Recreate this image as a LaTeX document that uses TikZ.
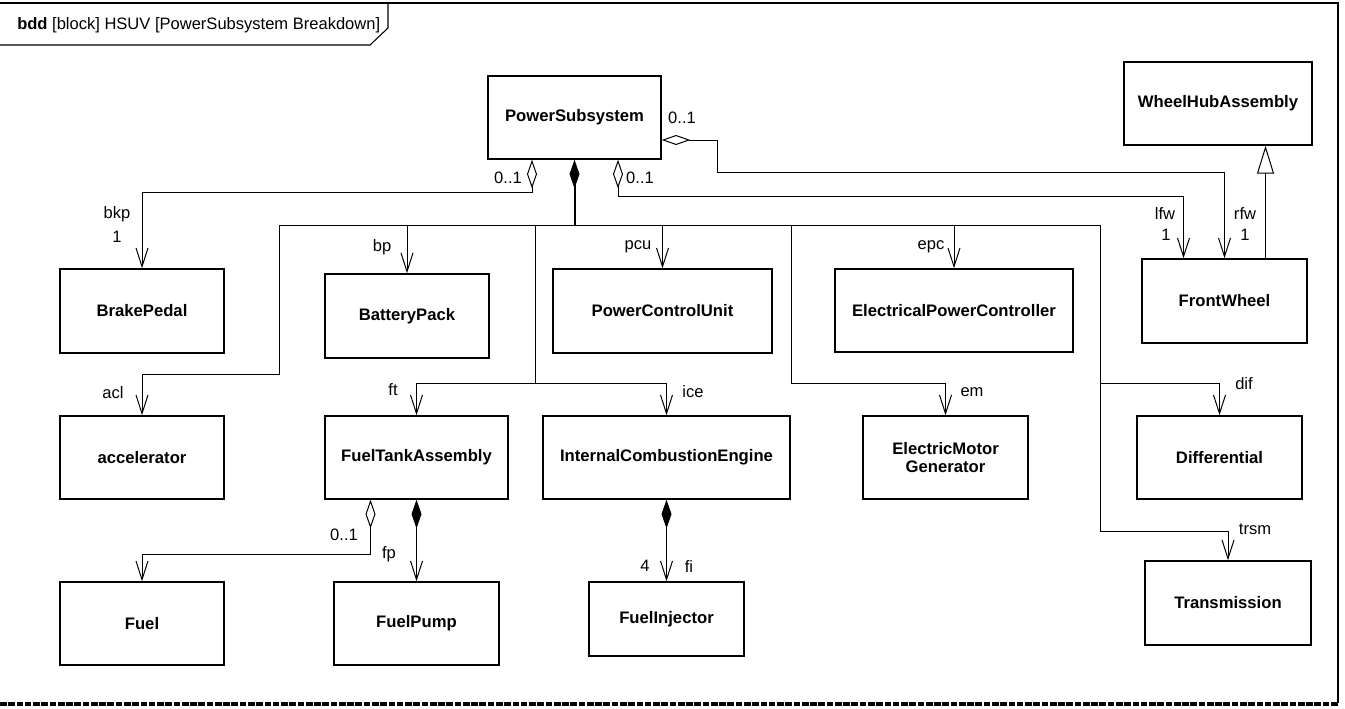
\documentclass[tikz,border=0pt]{standalone}
\usepackage{fontspec}
\setmainfont{Liberation Sans}
\usetikzlibrary{arrows.meta,calc}

\tikzset{
  block/.style 2 args={draw, line width=1.1pt, inner sep=0pt, align=center,
    minimum width=#1*0.75pt, minimum height=#2*0.75pt,
    font=\bfseries\fontsize{12.5}{13.5}\selectfont},
  lbl/.style={inner sep=0pt, font=\fontsize{12.4}{14}\selectfont},
  part/.style={line width=0.75pt, arrows={-Straight Barb[length=14pt,width=9pt]}},
  aggr/.style={line width=0.75pt, arrows={Diamond[open,length=21.5pt,width=7.5pt]-Straight Barb[length=14pt,width=9pt]}},
  compo/.style={line width=0.75pt, arrows={Diamond[length=21.5pt,width=7.5pt]-Straight Barb[length=14pt,width=9pt]}},
  gen/.style={line width=0.75pt, arrows={-Triangle[open,length=21pt,width=12.75pt]}},
}

\begin{document}
\begin{tikzpicture}[x=0.75pt, y=-0.75pt]
  \useasboundingbox (0,0) rectangle (1345,708);

  % Diagram frame and header tab
  \draw[line width=1pt] (0,3) -- (1338,3) -- (1338,703);
  \draw[line width=0.8pt] (0,45) -- (370,45) -- (388,28) -- (388,3);
  \draw[line width=2.4pt, dash pattern=on 5pt off 1.2pt] (0,704) -- (1338,704);
  \node[lbl, anchor=west] (title) at (17,25) {\textbf{bdd} [block] HSUV [PowerSubsystem Breakdown]};

  % Blocks, top row
  \node[block={173}{83}] (ps) at (574.5,117.5) {PowerSubsystem};
  \node[block={188}{83}] (whub) at (1218,103.5) {WheelHubAssembly};
  \node[block={164}{84}] (brake) at (142,311) {BrakePedal};
  \node[block={164}{84}] (batt) at (407,316) {BatteryPack};
  \node[block={219}{84}] (pcu) at (662.5,311) {PowerControlUnit};
  \node[block={238}{83}] (epc) at (954,310.5) {ElectricalPowerController};
  \node[block={165}{84}] (fwheel) at (1224.5,301) {FrontWheel};

  % Blocks, middle row
  \node[block={164}{83}] (accel) at (142,457.5) {accelerator};
  \node[block={183}{83}] (fta) at (416.5,457.5) {FuelTankAssembly};
  \node[block={247}{83}] (ice) at (666.5,457.5) {InternalCombustionEngine};
  \node[block={165}{83}] (emg) at (945.5,457.5) {ElectricMotor\\Generator};
  \node[block={165}{83}] (diff) at (1219.5,457.5) {Differential};

  % Blocks, bottom row
  \node[block={164}{83}] (fuel) at (142,623.5) {Fuel};
  \node[block={165}{83}] (fpump) at (416.5,623.5) {FuelPump};
  \node[block={155}{74}] (finj) at (666.5,619) {FuelInjector};
  \node[block={166}{84}] (trans) at (1228,603) {Transmission};

  % Composite parts of PowerSubsystem
  \coordinate (hub) at (574.5,225);
  \coordinate (aclbend) at (279,374);
  \coordinate (ftbend) at (535,383);
  \coordinate (embend) at (791,383);
  \coordinate (difbend) at (1100,383);
  \coordinate (trsmbend) at (1100,531);
  \draw[line width=1.5pt, arrows={Diamond[length=21.5pt,width=7.5pt]-}] (ps.south) -- (hub);
  \draw[part] (hub) -| (aclbend) -| (accel.north);
  \draw[part] (hub) -| (batt.north);
  \draw[part] (hub) -| (ftbend) -| (fta.north);
  \draw[part] (hub) -| (ftbend) -| (ice.north);
  \draw[part] (hub) -| (pcu.north);
  \draw[part] (hub) -| (embend) -| (emg.north);
  \draw[part] (hub) -| (epc.north);
  \draw[part] (hub) -| (difbend) -| (diff.north);
  \draw[part] (hub) -| (trsmbend) -| (trans.north);

  % Shared parts of PowerSubsystem
  \draw[aggr] ($(ps.south)+(-42.5,0)$) -- ++(0,33) -| (brake.north);
  \draw[aggr] ($(ps.south)+(43.5,0)$) -- ++(0,37) -| ($(fwheel.north)+(-41,0)$);
  \draw[aggr] ($(ps.east)+(0,22.5)$) -- ++(56,0) |- ($(fwheel.north)+(0,-86)$) -- (fwheel.north);

  % Generalization
  \draw[gen] ($(fwheel.north)+(41,0)$) coordinate (gen) -- (gen |- whub.south);

  % Fuel system
  \draw[aggr] ($(fta.south)+(-46,0)$) -- ++(0,55) -| (fuel.north);
  \draw[compo] (fta.south) -- (fpump.north);
  \draw[compo] (ice.south) -- (finj.north);

  % Role names and multiplicities
  \node[lbl] (mbkp) at (508,178) {0..1};
  \node[lbl] (mlfw) at (640,178) {0..1};
  \node[lbl] (mrfw) at (682,118) {0..1};
  \node[lbl] (mfuel) at (344,535) {0..1};
  \node[lbl] (rbkp) at (117,214) {bkp};
  \node[lbl] (nbkp) at (117,237) {1};
  \node[lbl] (rbp) at (382,247) {bp};
  \node[lbl] (rpcu) at (638,247) {pcu};
  \node[lbl] (repc) at (931,247) {epc};
  \node[lbl] (rlfw) at (1165,214) {lfw};
  \node[lbl] (nlfw) at (1166,235) {1};
  \node[lbl] (rrfw) at (1245,214) {rfw};
  \node[lbl] (nrfw) at (1245,235) {1};
  \node[lbl] (racl) at (113,393) {acl};
  \node[lbl] (rft) at (393,390) {ft};
  \node[lbl] (rice) at (693,392) {ice};
  \node[lbl] (rem) at (972,392) {em};
  \node[lbl] (rdif) at (1244,384) {dif};
  \node[lbl] (rtrsm) at (1255,529) {trsm};
  \node[lbl] (rfp) at (389,554) {fp};
  \node[lbl] (nfi) at (645,566) {4};
  \node[lbl] (rfi) at (689,566) {fi};
\end{tikzpicture}
\end{document}
